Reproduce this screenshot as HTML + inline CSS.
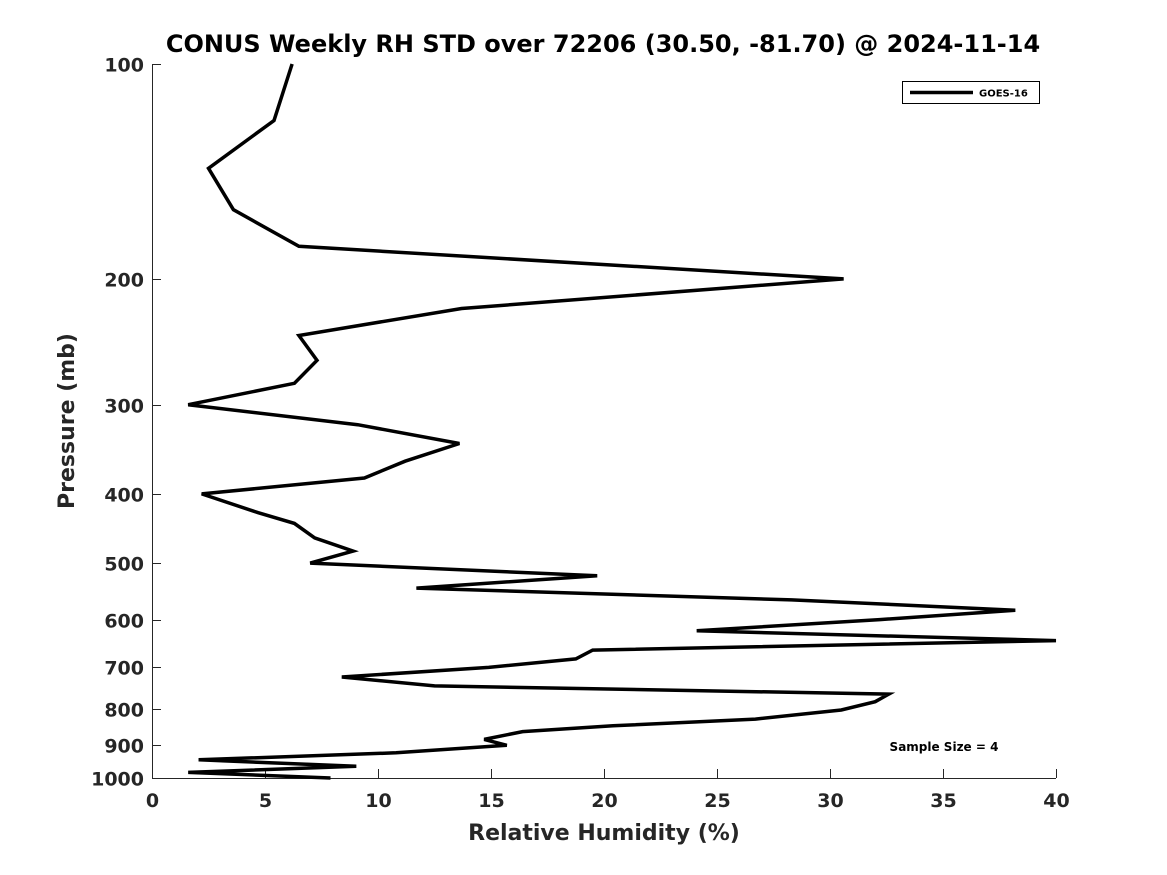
<!DOCTYPE html>
<html><head><meta charset="utf-8"><style>
html,body{margin:0;padding:0;background:#fff;}
svg{display:block;font-family:"DejaVu Sans","Liberation Sans",sans-serif;}
</style></head><body>
<svg id="chart" width="1167" height="875" viewBox="0 0 1167 875">
<text x="603" y="52" text-anchor="middle" font-size="24" font-weight="bold" fill="#000">CONUS Weekly RH STD over 72206 (30.50, -81.70) @ 2024-11-14</text>
<g id="axes"></g>
<polyline id="series" fill="none" stroke="#000" stroke-width="3.5" stroke-linejoin="miter"></polyline>
<g>
<rect x="902.5" y="81.5" width="137" height="22" fill="#fff" stroke="#000" stroke-width="1"/>
<line x1="910" y1="92.5" x2="973" y2="92.5" stroke="#000" stroke-width="3.5"/>
<text x="979" y="96.5" font-size="10" font-weight="bold">GOES-16</text>
</g>
<text x="944" y="751" text-anchor="middle" font-size="12" font-weight="bold">Sample Size = 4</text>
<text x="604" y="840" text-anchor="middle" font-size="22" font-weight="bold" fill="#262626">Relative Humidity (%)</text>
<text transform="translate(74,421) rotate(-90)" text-anchor="middle" font-size="22" font-weight="bold" fill="#262626">Pressure (mb)</text>
</svg>
<script>
const rhValues = [6.2,5.4,2.5,3.6,6.5,30.6,13.7,6.5,7.3,6.3,1.6,9.1,13.6,11.2,9.4,2.2,4.7,6.3,7.2,8.9,7.0,19.7,11.7,28.3,38.2,32.2,24.1,40.0,19.5,18.75,14.9,8.4,12.5,32.6,32.0,30.5,26.7,20.4,16.4,14.7,15.7,10.8,2.06,9.04,1.6,7.9];
const pressures = [100,120,140,160,180,200,220,240,260,280,300,320,340,360,380,400,425,440,461,481,500,521,542,563,582,600,622,642,662,681,700,722,743,763,782,803,827,845,861,883,900,922,943,963,982,1000];
const xTicks = [0,5,10,15,20,25,30,35,40];
const yTicks = [100,200,300,400,500,600,700,800,900,1000];

const X0=152,X1=1056,Y0=64,Y1=778;
const xScale=v=>X0+(v-0)/(40-0)*(X1-X0);
const yScale=p=>Y0+(Math.log10(p)-2)*(Y1-Y0);
const NS="http://www.w3.org/2000/svg";
const axes=document.getElementById('axes');
function mk(tag,attrs){const e=document.createElementNS(NS,tag);for(const k in attrs)e.setAttribute(k,attrs[k]);return e;}

const xl=mk('line',{x1:X0,y1:Y1+0.5,x2:X1,y2:Y1+0.5,stroke:'#262626','stroke-width':1});


axes.appendChild(xl);
const yl=mk('line',{x1:X0+0.5,y1:Y0,x2:X0+0.5,y2:Y1,stroke:'#262626','stroke-width':1});


axes.appendChild(yl);

xTicks.forEach(v=>{
  const x=Math.round(xScale(v))+0.5;
  const t=mk('line',{x1:x,y1:Y1,x2:x,y2:Y1-9,stroke:'#262626','stroke-width':1});
  
  
  axes.appendChild(t);
  const l=mk('text',{x:x,y:Y1+29,'text-anchor':'middle','font-size':19,'font-weight':'bold',fill:'#262626'});
  l.textContent=v;
  
  
  axes.appendChild(l);
});
yTicks.forEach(p=>{
  const y=Math.round(yScale(p))+0.5;
  const t=mk('line',{x1:X0,y1:y,x2:X0+9,y2:y,stroke:'#262626','stroke-width':1});
  
  
  axes.appendChild(t);
  const l=mk('text',{x:X0-8,y:y+7,'text-anchor':'end','font-size':19,'font-weight':'bold',fill:'#262626'});
  l.textContent=p;
  
  
  axes.appendChild(l);
});

document.getElementById('series').setAttribute('points',
  rhValues.map((v,i)=>xScale(v).toFixed(1)+','+yScale(pressures[i]).toFixed(1)).join(' '));
</script>
</body></html>
